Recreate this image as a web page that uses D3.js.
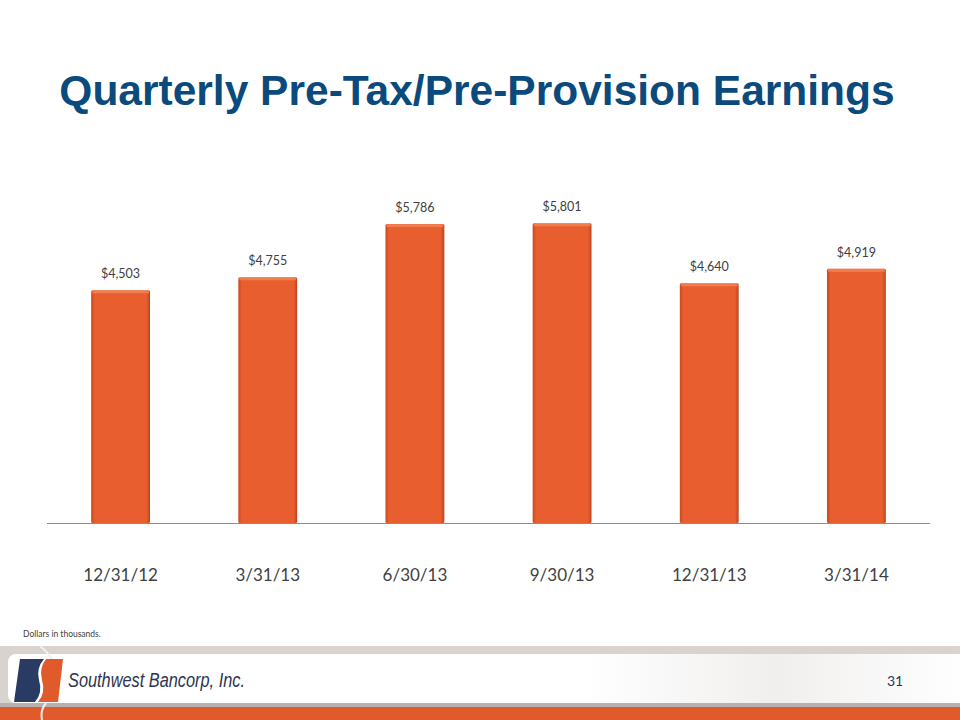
<!DOCTYPE html>
<html><head><meta charset="utf-8">
<script src="https://cdn.jsdelivr.net/npm/d3@7"></script>
<style>body{margin:0;background:#fff}svg{display:block}</style>
</head><body>
<script>
const categories = ["12/31/12","3/31/13","6/30/13","9/30/13","12/31/13","3/31/14"];
const values = [4503,4755,5786,5801,4640,4919];
const valueLabels = ["$4,503","$4,755","$5,786","$5,801","$4,640","$4,919"];
const title = "Quarterly Pre-Tax/Pre-Provision Earnings";

const W=960,H=720;
const svg=d3.select("body").append("svg").attr("width",W).attr("height",H);
const defs=svg.append("defs");
const g1=defs.append("linearGradient").attr("id","barGrad").attr("x1",0).attr("x2",1).attr("y1",0).attr("y2",0);
g1.append("stop").attr("offset","0").attr("stop-color","#c9491f");
g1.append("stop").attr("offset","0.06").attr("stop-color","#e85e2e");
g1.append("stop").attr("offset","0.94").attr("stop-color","#e85e2e");
g1.append("stop").attr("offset","1").attr("stop-color","#b8441e");
const g2=defs.append("linearGradient").attr("id","footGrad").attr("x1",0).attr("x2",1);
g2.append("stop").attr("offset","0").attr("stop-color","#ffffff");
g2.append("stop").attr("offset","0.6").attr("stop-color","#ffffff");
g2.append("stop").attr("offset","0.8").attr("stop-color","#f1efee");
g2.append("stop").attr("offset","1").attr("stop-color","#ffffff");

svg.append("text").attr("x",477).attr("y",105).attr("text-anchor","middle")
  .attr("font-family","Liberation Sans, Arial, sans-serif").attr("font-weight","bold")
  .attr("font-size",42.5).attr("fill","#0b4a7c").text(title);

const baseY=523;
const x=d3.scaleBand().domain(categories).range([47,930]).paddingInner(0.6).paddingOuter(0.3);
const y=d3.scaleLinear().domain([0,6000]).range([baseY,213]);

svg.append("g").selectAll("rect").data(values).join("rect")
  .attr("x",(d,i)=>x(categories[i])).attr("width",x.bandwidth())
  .attr("y",d=>y(d)).attr("height",d=>baseY-y(d))
  .attr("fill","url(#barGrad)").attr("rx",1.5);
svg.append("g").selectAll("rect").data(values).join("rect")
  .attr("x",(d,i)=>x(categories[i])+1).attr("width",x.bandwidth()-2)
  .attr("y",d=>y(d)).attr("height",3)
  .attr("fill","#f58a5c").attr("opacity",0.7);

svg.append("line").attr("x1",47).attr("x2",930).attr("y1",baseY+0.5).attr("y2",baseY+0.5)
  .attr("stroke","#8c8c8c").attr("stroke-width",1);

svg.append("g").selectAll("text").data(values).join("text")
  .attr("x",(d,i)=>x(categories[i])+x.bandwidth()/2).attr("y",d=>y(d)-12)
  .attr("text-anchor","middle").attr("font-family","Lato, 'Open Sans', sans-serif")
  .attr("font-size",12.5).attr("fill","#404040").text((d,i)=>valueLabels[i]);

const xAxis=d3.axisBottom(x).tickSize(0).tickPadding(0);
const ax=svg.append("g").attr("transform",`translate(0,${baseY})`).call(xAxis);
ax.select(".domain").remove();
ax.selectAll("text").attr("y",58).attr("dy",0).attr("font-family","Lato, 'Open Sans', sans-serif")
  .attr("font-size",17).attr("fill","#404040");

svg.append("text").attr("x",23).attr("y",637).attr("font-family","Lato, 'Open Sans', sans-serif")
  .attr("font-size",8.5).attr("fill","#404040").text("Dollars in thousands.");

// footer
svg.append("rect").attr("x",0).attr("y",646).attr("width",W).attr("height",74).attr("fill","#d9d3cf");
svg.append("rect").attr("x",0).attr("y",706).attr("width",W).attr("height",14).attr("fill","#e05a2c");
svg.append("rect").attr("x",0).attr("y",703).attr("width",W).attr("height",4).attr("fill","#b9b1ad");
svg.append("rect").attr("x",8).attr("y",654).attr("width",W).attr("height",49).attr("rx",8).attr("fill","url(#footGrad)");
svg.append("path").attr("d","M40,646 Q48,652 52,660").attr("stroke","#f4f1ef").attr("stroke-width",2).attr("fill","none");
svg.append("path").attr("d","M42,720 Q40,710 46,703").attr("stroke","#f4f1ef").attr("stroke-width",2).attr("fill","none");
// logo
svg.append("path").attr("d","M20,659 L44,659 Q36,668 39,680 Q43,693 35,702 L14,702 Z").attr("fill","#2a3b63");
svg.append("path").attr("d","M46,659 L63,659 L58,702 L38,702 Q46,693 42,680 Q39,668 46,659 Z").attr("fill","#e05a2c");
svg.append("text").attr("x",68).attr("y",687).attr("font-family","Liberation Sans, Arial, sans-serif")
  .attr("font-style","italic").attr("font-size",20).attr("fill","#2d3550")
  .attr("textLength",177).attr("lengthAdjust","spacingAndGlyphs").text("Southwest Bancorp, Inc.");
svg.append("text").attr("x",887).attr("y",686).attr("font-family","Lato, 'Open Sans', sans-serif")
  .attr("font-size",14).attr("fill","#1f3a5c").text("31");
</script>
</body></html>
